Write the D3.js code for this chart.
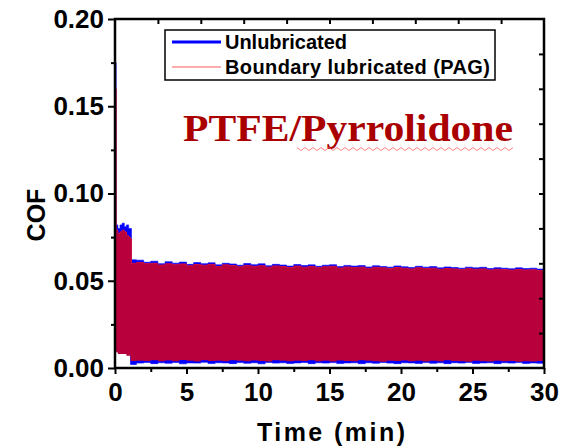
<!DOCTYPE html>
<html>
<head>
<meta charset="utf-8">
<script src="https://cdn.jsdelivr.net/npm/d3@7/dist/d3.min.js"></script>
<style>
  html, body { margin: 0; padding: 0; background: #fff; }
  svg { display: block; }
</style>
</head>
<body>
<svg id="chart" width="573" height="448"></svg>
<script>
// ---- Data (envelopes of the dense COF traces) ----
const timeEarly = [0, 0.03, 0.08, 0.2, 0.35, 0.5, 0.65, 0.8, 0.95, 1.08, 1.15];
const unlubUpperEarly = [0.175, 0.175, 0.082, 0.080, 0.082, 0.083, 0.081, 0.082, 0.080, 0.080, 0.062];
const unlubLowerEarly = [0.014, 0.012, 0.010, 0.009, 0.009, 0.009, 0.009, 0.008, 0.008, 0.002, 0.002];
const pagUpperEarly   = [0.160, 0.160, 0.079, 0.077, 0.078, 0.079, 0.078, 0.076, 0.075, 0.074, 0.060];
const pagLowerEarly   = [0.013, 0.011, 0.009, 0.008, 0.008, 0.008, 0.008, 0.007, 0.007, 0.004, 0.004];

const timeLate = [1.5, 2, 2.5, 3, 3.5, 4, 4.5, 5, 5.5, 6, 6.5, 7, 7.5, 8, 8.5, 9, 9.5, 10,
  10.5, 11, 11.5, 12, 12.5, 13, 13.5, 14, 14.5, 15, 15.5, 16, 16.5, 17, 17.5, 18, 18.5, 19, 19.5, 20,
  20.5, 21, 21.5, 22, 22.5, 23, 23.5, 24, 24.5, 25, 25.5, 26, 26.5, 27, 27.5, 28, 28.5, 29, 29.5, 30];
const unlubUpperLate = [0.0618, 0.0606, 0.0612, 0.0598, 0.0609, 0.0601, 0.0607, 0.0594, 0.0604, 0.0598,
  0.0603, 0.0591, 0.0600, 0.0596, 0.0589, 0.0599, 0.0592, 0.0597, 0.0586, 0.0594, 0.0590, 0.0584, 0.0593,
  0.0587, 0.0591, 0.0583, 0.0589, 0.0592, 0.0581, 0.0588, 0.0584, 0.0587, 0.0579, 0.0586, 0.0582, 0.0578,
  0.0585, 0.0580, 0.0576, 0.0583, 0.0578, 0.0581, 0.0574, 0.0579, 0.0576, 0.0572, 0.0578, 0.0574, 0.0577,
  0.0570, 0.0575, 0.0572, 0.0569, 0.0574, 0.0570, 0.0572, 0.0567, 0.0566];
const unlubLowerLate = [0.0028, 0.0032, 0.0025, 0.0030, 0.0027, 0.0032, 0.0024, 0.0029, 0.0028, 0.0033,
  0.0026, 0.0030, 0.0029, 0.0025, 0.0031, 0.0027, 0.0030, 0.0024, 0.0032, 0.0028, 0.0030, 0.0026, 0.0029,
  0.0032, 0.0025, 0.0030, 0.0028, 0.0031, 0.0026, 0.0029, 0.0030, 0.0025, 0.0030, 0.0027, 0.0032, 0.0028,
  0.0025, 0.0030, 0.0029, 0.0026, 0.0031, 0.0027, 0.0030, 0.0025, 0.0030, 0.0028, 0.0032, 0.0026, 0.0029,
  0.0030, 0.0025, 0.0030, 0.0028, 0.0031, 0.0026, 0.0029, 0.0027, 0.0028];
const pagUpperLate = [0.0605, 0.0598, 0.0600, 0.0590, 0.0597, 0.0592, 0.0596, 0.0586, 0.0593, 0.0589,
  0.0594, 0.0582, 0.0591, 0.0587, 0.0580, 0.0588, 0.0583, 0.0586, 0.0578, 0.0585, 0.0581, 0.0576, 0.0584,
  0.0578, 0.0582, 0.0575, 0.0580, 0.0583, 0.0573, 0.0579, 0.0576, 0.0578, 0.0571, 0.0577, 0.0574, 0.0570,
  0.0576, 0.0572, 0.0568, 0.0574, 0.0570, 0.0572, 0.0566, 0.0570, 0.0568, 0.0564, 0.0569, 0.0566, 0.0568,
  0.0562, 0.0566, 0.0564, 0.0561, 0.0565, 0.0562, 0.0563, 0.0559, 0.0558];
const pagLowerLate = [0.0042, 0.0040, 0.0045, 0.0038, 0.0043, 0.0039, 0.0046, 0.0041, 0.0037, 0.0044,
  0.0040, 0.0042, 0.0038, 0.0045, 0.0041, 0.0039, 0.0043, 0.0040, 0.0037, 0.0044, 0.0041, 0.0038, 0.0042,
  0.0040, 0.0045, 0.0039, 0.0041, 0.0037, 0.0043, 0.0040, 0.0038, 0.0044, 0.0041, 0.0039, 0.0036, 0.0042,
  0.0040, 0.0043, 0.0038, 0.0041, 0.0037, 0.0042, 0.0039, 0.0044, 0.0040, 0.0038, 0.0036, 0.0041, 0.0039,
  0.0037, 0.0042, 0.0038, 0.0040, 0.0036, 0.0039, 0.0037, 0.0040, 0.0038];

const seriesNames = ["Unlubricated", "Boundary lubricated (PAG)"];
const xTicksMajor = [0, 5, 10, 15, 20, 25, 30];
const xTicksMinor = [2.5, 7.5, 12.5, 17.5, 22.5, 27.5];
const xTicksTop = [3, 6, 9, 12, 15, 18, 21, 24, 27];
const yTicksMajor = [0, 0.05, 0.10, 0.15, 0.20];
const yTicksMinor = [0.025, 0.075, 0.125, 0.175];
const yTicksRight = [0.02, 0.04, 0.06, 0.08, 0.10, 0.12, 0.14, 0.16, 0.18];
const chartTitle = "PTFE/Pyrrolidone";
const xTitle = "Time (min)";
const yTitle = "COF";

// ---- Build series ----
function build(tE, upE, loE, tL, upL, loL) {
  const a = tE.map((t, i) => ({ t, hi: upE[i], lo: loE[i] }));
  const b = tL.map((t, i) => ({ t, hi: upL[i], lo: loL[i] }));
  return a.concat(b);
}
const unlub = build(timeEarly, unlubUpperEarly, unlubLowerEarly, timeLate, unlubUpperLate, unlubLowerLate);
const pag = build(timeEarly, pagUpperEarly, pagLowerEarly, timeLate, pagUpperLate, pagLowerLate);

const svg = d3.select("#chart");
const L = 115, R = 544, T = 19, B = 368;
const x = d3.scaleLinear().domain([0, 30]).range([L, R]);
const y = d3.scaleLinear().domain([0, 0.20]).range([B, T]);

const area = d3.area()
  .x(d => x(d.t)).y0(d => y(d.lo)).y1(d => y(d.hi))
  .curve(d3.curveStepAfter);
const topLine = d3.line().x(d => x(d.t)).y(d => y(d.hi)).curve(d3.curveStepAfter);

const plot = svg.append("g");
plot.append("path").datum(unlub).attr("d", area).attr("fill", "#0000ff")
  .attr("stroke", "#0000ff").attr("stroke-width", 0.6);
plot.append("path").datum(pag).attr("d", area).attr("fill", "#b8003c");
plot.append("path").datum(pag).attr("d", topLine).attr("fill", "none")
  .attr("stroke", "#d01040").attr("stroke-width", 1);

// ---- Axes ----
const font = "'Liberation Sans', Arial, sans-serif";
function styleAxis(size) {
  return g => {
    g.selectAll(".domain").remove();
    g.selectAll(".tick line").attr("stroke", "#000").attr("stroke-width", 2);
    g.selectAll("text").style("font-family", font).style("font-weight", "bold")
      .style("font-size", size + "px").attr("fill", "#000");
  };
}
svg.append("g").attr("transform", `translate(${L},0)`)
  .call(d3.axisLeft(y).tickValues(yTicksMajor).tickFormat(d3.format(".2f")).tickSize(7).tickPadding(4))
  .call(styleAxis(26));
svg.append("g").attr("transform", `translate(${L},0)`)
  .call(d3.axisLeft(y).tickValues(yTicksMinor).tickFormat("").tickSize(4))
  .call(styleAxis(26));
svg.append("g").attr("transform", `translate(0,${B})`)
  .call(d3.axisBottom(x).tickValues(xTicksMajor).tickFormat(d3.format("d")).tickSize(6).tickPadding(9))
  .call(styleAxis(26));
svg.append("g").attr("transform", `translate(0,${B})`)
  .call(d3.axisBottom(x).tickValues(xTicksMinor).tickFormat("").tickSize(4))
  .call(styleAxis(26));
svg.append("g").attr("transform", `translate(0,${T})`)
  .call(d3.axisBottom(x).tickValues(xTicksTop).tickFormat("").tickSize(5))
  .call(styleAxis(26));
svg.append("g").attr("transform", `translate(${R},0)`)
  .call(d3.axisLeft(y).tickValues(yTicksRight).tickFormat("").tickSize(5))
  .call(styleAxis(26));

svg.append("rect").attr("x", L).attr("y", T).attr("width", R - L).attr("height", B - T)
  .attr("fill", "none").attr("stroke", "#000").attr("stroke-width", 2.5);

// ---- Titles ----
svg.append("text").attr("x", 331).attr("y", 441).attr("text-anchor", "middle")
  .style("font-family", font).style("font-weight", "bold").style("font-size", "25px")
  .attr("textLength", 148).attr("lengthAdjust", "spacing").text(xTitle);
svg.append("text").attr("transform", "translate(45,215) rotate(-90)").attr("text-anchor", "middle")
  .style("font-family", font).style("font-weight", "bold").style("font-size", "25px").text(yTitle);

svg.append("text").attr("x", 183).attr("y", 141)
  .style("font-family", "'Liberation Serif', 'Times New Roman', serif").style("font-weight", "bold")
  .style("font-size", "38px").attr("fill", "#aa0000")
  .attr("textLength", 330).attr("lengthAdjust", "spacingAndGlyphs").text(chartTitle);
// spell-check style wavy underline
const wave = d3.range(0, 55).map(i => [297 + i * 4, 149 + (i % 2 ? 1.5 : -1.5)]);
svg.append("path").attr("d", d3.line()(wave)).attr("fill", "none")
  .attr("stroke", "#ff6060").attr("stroke-width", 0.8);

// ---- Legend ----
const lg = svg.append("g");
lg.append("rect").attr("x", 165).attr("y", 30).attr("width", 330).attr("height", 50)
  .attr("fill", "#fff").attr("stroke", "#000").attr("stroke-width", 1.5);
const legendColors = ["#0000ff", "#ff5a5a"];
const legendWidths = [3, 1.2];
const legendTextWidths = [122, 265];
seriesNames.forEach((s, i) => {
  const yy = 42 + i * 25;
  lg.append("line").attr("x1", 172).attr("x2", 221).attr("y1", yy).attr("y2", yy)
    .attr("stroke", legendColors[i]).attr("stroke-width", legendWidths[i]);
  lg.append("text").attr("x", 225).attr("y", yy + 7)
    .style("font-family", font).style("font-weight", "bold").style("font-size", "20px")
    .attr("textLength", legendTextWidths[i]).attr("lengthAdjust", "spacing")
    .attr("fill", "#000").text(s);
});
</script>
</body>
</html>
